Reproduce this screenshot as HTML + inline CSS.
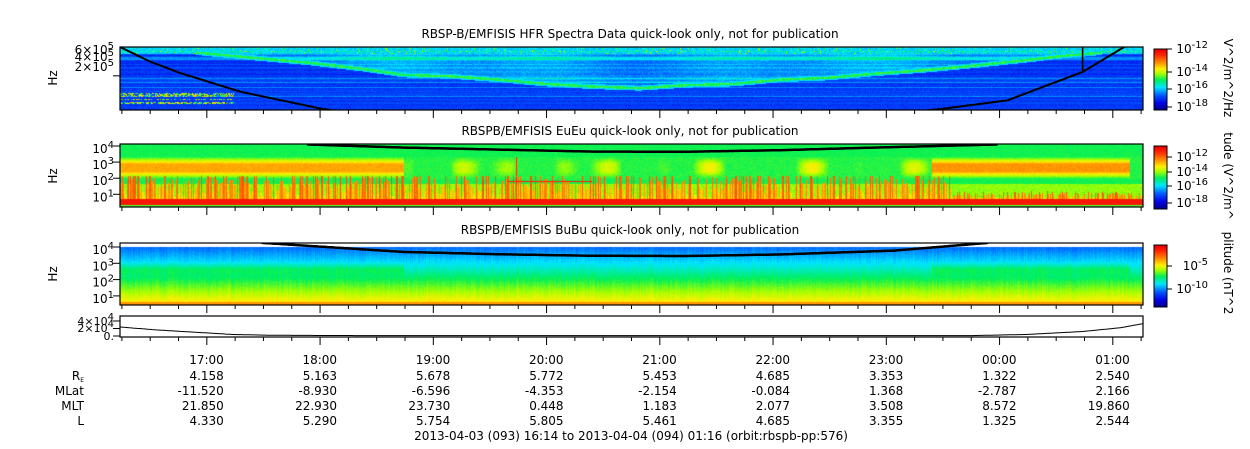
<!DOCTYPE html>
<html><head><meta charset="utf-8">
<style>
body{margin:0;background:#fff;}
#wrap{position:relative;width:1250px;height:449px;overflow:hidden;background:#fff;font-family:"DejaVu Sans","Liberation Sans",sans-serif;font-size:12px;color:#000;}
canvas,svg{position:absolute;left:0;top:0;}
</style></head>
<body>
<div id="wrap">
<canvas id="cv" width="1250" height="449"></canvas>
<svg id="sv" width="1250" height="449"></svg>
</div>
<script>
// ---- data ----
const hourLabels = ["17:00","18:00","19:00","20:00","21:00","22:00","23:00","00:00","01:00"];
const hourMinutes = [46,106,166,226,286,346,406,466,526];
const rowNames = ["RE","MLat","MLT","L"];
const reVals = ["4.158","5.163","5.678","5.772","5.453","4.685","3.353","1.322","2.540"];
const mlatVals = ["-11.520","-8.930","-6.596","-4.353","-2.154","-0.084","1.368","-2.787","2.166"];
const mltVals = ["21.850","22.930","23.730","0.448","1.183","2.077","3.508","8.572","19.860"];
const lVals = ["4.330","5.290","5.754","5.805","5.461","4.685","3.355","1.325","2.544"];
// HFR black curve (Hz) vs minutes from start
const hfrCurveMin = [0,16,32,64,106,130,400,434,470,510,532,545];
const hfrCurveHz = [7e5,2.6e5,1.2e5,3.4e4,1.1e4,7e3,7e3,1.05e4,1.9e4,1.3e5,7e5,1.5e6];
// upper hybrid line (Hz)
const uhrMin = [40,70,100,130,150,175,200,225,250,275,300,325,350,375,400,425,450,475,500,520];
const uhrHz = [5e5,3.5e5,2.5e5,1.6e5,1.1e5,1e5,8e4,6e4,5e4,4.5e4,5.5e4,6e4,8e4,9e4,1.2e5,1.5e5,2e5,2.8e5,4e5,5e5];
// EuEu black curve (Hz)
const euCurveMin = [99,150,200,250,300,350,400,465];
const euCurveHz = [1.25e4,8e3,6e3,4.5e3,4.4e3,5.5e3,8e3,1.25e4];
// BuBu black curve (Hz)
const buCurveMin = [75,150,200,250,300,350,410,460];
const buCurveHz = [1.8e4,5e3,3.6e3,2.9e3,2.8e3,3.5e3,6e3,1.8e4];
// bottom panel line
const linMin = [0,20,40,60,80,100,140,300,450,480,510,530,542];
const linVal = [2.4e4,1.6e4,1e4,4e3,2e3,1.5e3,1e3,1e3,1e3,4e3,1.2e4,2.2e4,3.3e4];

// ---- axes ----
const X0=120,X1=1143,TOT=542;
const xs=m=>X0+m/TOT*(X1-X0);
const y1=f=>47+(Math.log10(7e5)-Math.log10(f))*34.1;
const y2=f=>146+(4-Math.log10(f))*16.1;
const y3=f=>247+(4-Math.log10(f))*16.3;
const y4=v=>336-v/4e4*15;
function interp(ax,ay,m){if(m<=ax[0])return ay[0];for(let i=1;i<ax.length;i++){if(m<=ax[i]){const t=(m-ax[i-1])/(ax[i]-ax[i-1]);return ay[i-1]*(1-t)+ay[i]*t;}}return ay[ay.length-1];}
function interpLog(ax,ay,m){if(m<=ax[0])return ay[0];for(let i=1;i<ax.length;i++){if(m<=ax[i]){const t=(m-ax[i-1])/(ax[i]-ax[i-1]);return Math.pow(10,Math.log10(ay[i-1])*(1-t)+Math.log10(ay[i])*t);}}return ay[ay.length-1];}

// ---- texture ----
let seed=12345;function rnd(){seed|=0;seed=seed+0x6D2B79F5|0;let t=Math.imul(seed^seed>>>15,1|seed);t=t+Math.imul(t^t>>>7,61|t)^t;return((t^t>>>14)>>>0)/4294967296;}
const cl=v=>Math.max(0,Math.min(1,v));
const cmS=[0,0.12,0.25,0.38,0.5,0.6,0.68,0.8,0.92,1];
const cmC=[[0,0,130],[0,0,230],[0,90,255],[0,230,255],[0,240,90],[160,255,0],[255,240,0],[255,130,0],[255,30,0],[230,0,0]];
function cmap(v){v=cl(v);for(let i=1;i<cmS.length;i++){if(v<=cmS[i]){const t=(v-cmS[i-1])/(cmS[i]-cmS[i-1]);return cmC[i].map((c,k)=>cmC[i-1][k]*(1-t)+c*t);}}return cmC[cmC.length-1];}
const cv=document.getElementById('cv'),ctx=cv.getContext('2d');
const img=ctx.createImageData(1250,449);
function put(x,y,v){const c=cmap(v),i=(y*1250+x)*4;img.data[i]=c[0];img.data[i+1]=c[1];img.data[i+2]=c[2];img.data[i+3]=255;}
const colN=[],colS=[],rowN=[];
for(let x=0;x<1250;x++){colN.push(rnd());colS.push(rnd());}
for(let y=0;y<449;y++)rowN.push(rnd());
const env=[];for(let x=0;x<1250;x++){env.push(0.5+0.5*Math.sin(x/37)*Math.sin(x/91+1));}
const env2=[];for(let x=0;x<1250;x++){env2.push(Math.max(0,Math.sin(x/11)*Math.sin(x/29+2)));}
// panel 1
for(let x=X0;x<X1;x++){const m=(x-X0)/(X1-X0)*TOT;const uy=(m>=40&&m<=520)?y1(interpLog(uhrMin,uhrHz,m)):-99;
 for(let y=47;y<110;y++){const t=(y-47)/63;let v=0.15+rowN[y]*0.07+rnd()*0.05;
  if(y<uy-2&&m>40&&m<520){v+=0.06+env[x]*0.1*(1-t)+rnd()*0.04;}
  if(t<0.1)v=0.32+rnd()*0.1+(rnd()<0.05?0.2:0);
  if(rowN[y]>0.85)v+=0.06;
  const d=Math.abs(y-uy);if(d<1.2)v=0.48+rnd()*0.08;else if(d<2.5)v=0.37;
  if(m<60&&t>0.72&&t<0.92&&rowN[y]>0.6&&rnd()<0.6)v=0.45+rnd()*0.3;
  put(x,y,v);}}
// panel 2
for(let x=X0;x<X1;x++){const m=(x-X0)/(X1-X0)*TOT;const sp=colS[x];
 let band=(m<150)?0.74:(m>430&&m<535)?0.76:(0.5+0.16*env2[x]);
 for(let y=144;y<207;y++){const t=(y-144)/63;let v=0.5+rnd()*0.02;
  if(t>0.2&&t<0.54){const c=1-Math.abs(t-0.37)/0.17;v=Math.max(v,0.5+(band-0.5)*Math.min(1,c*1.5)+rnd()*0.04);}
  if(t>0.5&&t<0.88){const h=0.88-sp*0.45*(m<440?1:0.3);if(t>h)v=0.62+sp*0.22+rnd()*0.04;else if(t>0.62)v=Math.max(v,0.56+rnd()*0.06);}
  if(t>=0.87&&t<0.96)v=0.94;
  if(t>=0.96)v=0.55;
  if(m>205&&m<250&&Math.abs(y-181)<1)v=0.92;
  if(Math.abs(x-516)<1&&y>156&&y<185)v=0.9;
  put(x,y,v);}}
// panel 3
for(let x=X0;x<X1;x++){const m=(x-X0)/(X1-X0)*TOT;const g=(m<150||(m>430&&m<535))?1:0;
 for(let y=247;y<305;y++){const t=(y-243)/62;let v;
  if(t<0.35)v=0.25+(t-0.06)*0.45;else if(t<0.6)v=0.38+(t-0.35)*0.48;else v=0.5+(t-0.6)*0.5;
  if(g&&t>0.3&&t<0.55)v+=0.07*(1-Math.abs(t-0.42)/0.13);
  v+=rnd()*0.03+(colN[x]-0.5)*0.03;
  if(t>0.95)v=0.78;
  put(x,y,v);}}
// colorbars
for(const cb of [[49,110],[146,209],[245,307]])for(let y=cb[0];y<cb[1];y++)for(let x=1154;x<1167;x++)put(x,y,1-(y-cb[0])/(cb[1]-cb[0]));
ctx.putImageData(img,0,0);

// ---- overlay ----
const sv=document.getElementById('sv');const NS='http://www.w3.org/2000/svg';
function el(tag,a,txt){const e=document.createElementNS(NS,tag);for(const k in a)e.setAttribute(k,a[k]);if(txt!==undefined)e.textContent=txt;sv.appendChild(e);return e;}
function path(pts){return pts.map((p,i)=>(i?'L':'M')+p[0].toFixed(1)+','+p[1].toFixed(1)).join('');}
function clipRect(id,y0,y1_){const d=el('clipPath',{id:id});const r=document.createElementNS(NS,'rect');r.setAttribute('x',X0);r.setAttribute('y',y0);r.setAttribute('width',X1-X0);r.setAttribute('height',y1_-y0);d.appendChild(r);}
clipRect('c1',47,110);clipRect('c2',144,207);clipRect('c3',243,305);clipRect('c4',316,337);
function curve(ax,ay,fy,clip,name,w){const pts=[];for(let m=ax[0];m<=ax[ax.length-1];m+=1)pts.push([xs(m),fy(interpLog(ax,ay,m))]);
 const p=el('path',{d:path(pts),fill:'none',stroke:'#000','stroke-width':w,'clip-path':'url(#'+clip+')'});
 
 }
curve(hfrCurveMin,hfrCurveHz,y1,'c1','hfr-cutoff-curve',2);
const vl=el('line',{x1:xs(510),x2:xs(510),y1:47,y2:72,stroke:'#000','stroke-width':1.5});


curve(euCurveMin,euCurveHz,y2,'c2','eueu-fce-curve',2.5);
curve(buCurveMin,buCurveHz,y3,'c3','bubu-fce-curve',2.5);
{const pts=[];for(let m=0;m<=TOT;m++)pts.push([xs(m),y4(interp(linMin,linVal,m))]);
 const p=el('path',{d:path(pts),fill:'none',stroke:'#000','stroke-width':1,'clip-path':'url(#c4)'});
 
 }
// frames & ticks
const panels=[[47,110,'hfr-panel'],[144,207,'eueu-panel'],[243,305,'bubu-panel'],[316,337,'position-panel']];
for(const p of panels){const r=el('rect',{x:X0,y:p[0],width:X1-X0,height:p[1]-p[0],fill:'none',stroke:'#000','stroke-width':1.2});
 
 
 for(let m=1;m<=TOT;m++){const x=xs(m);const hr=hourMinutes.includes(m);if(m%15===1&&!hr){el('line',{x1:x,x2:x,y1:p[1],y2:p[1]+4,stroke:'#000'});}if(hr)el('line',{x1:x,x2:x,y1:p[1],y2:p[1]+8,stroke:'#000'});}}
// titles
const titles=[[34,'RBSP-B/EMFISIS  HFR Spectra Data quick-look only, not for publication'],[131,'RBSPB/EMFISIS  EuEu quick-look only, not for publication'],[230,'RBSPB/EMFISIS  BuBu quick-look only, not for publication']];
titles.forEach((t,i)=>{const e=el('text',{x:630,y:t[0]+4,'text-anchor':'middle','font-size':12,'xml:space':'preserve'},t[1]);
 
 });
// y labels
function ylab(y,n){const e=el('text',{x:0,y:0,'text-anchor':'middle','font-size':12,transform:'translate(57,'+y+') rotate(-90)'},'Hz');
 
 }
ylab(78,'hfr-y-axis-title');ylab(176,'eueu-y-axis-title');ylab(274,'bubu-y-axis-title');
function sup(x,y,base,ex,n,fs){const e=el('text',{x:x,y:y,'text-anchor':'end','font-size':fs||12});
 const a=document.createElementNS(NS,'tspan');a.textContent=base;e.appendChild(a);const b=document.createElementNS(NS,'tspan');b.setAttribute('dy','-5');b.setAttribute('font-size','10');b.textContent=ex;e.appendChild(b);}
sup(114,54,'6×10','5','hfr-tick-6e5');sup(114,61,'4×10','5','hfr-tick-4e5');sup(114,71,'2×10','5','hfr-tick-2e5');
el('line',{x1:113,x2:120,y1:y1(1e5),y2:y1(1e5),stroke:'#000'});
[[4,2],[3,2],[2,2],[1,2]].forEach((d)=>{const f=Math.pow(10,d[0]);sup(114,y2(f)+7,'10',String(d[0]),'eueu-tick-1e'+d[0]);sup(114,y3(f)+7,'10',String(d[0]),'bubu-tick-1e'+d[0]);
 el('line',{x1:113,x2:120,y1:y2(f),y2:y2(f),stroke:'#000'});el('line',{x1:113,x2:120,y1:y3(f),y2:y3(f),stroke:'#000'});});
sup(114,325,'4×10','4','pos-tick-4e4',11);sup(114,332,'2×10','4','pos-tick-2e4',11);
{const e=el('text',{x:114,y:340,'text-anchor':'end','font-size':11},'0.');}
[4e4,2e4,0].forEach(v=>el('line',{x1:113,x2:120,y1:y4(v),y2:y4(v),stroke:'#000'}));
// colorbars
[[49,110],[146,209],[245,307]].forEach((c,i)=>{const r=el('rect',{x:1154,y:c[0],width:13,height:c[1]-c[0],fill:'none',stroke:'#000'});});
[[53,'-12'],[76,'-14'],[93,'-16'],[111,'-18']].forEach(t=>{sup(1208,t[0],'10',t[1],'cb1-tick'+t[1]);el('line',{x1:1167,x2:1172,y1:t[0]-4,y2:t[0]-4,stroke:'#000'});});
[[161,'-12'],[176,'-14'],[190,'-16'],[207,'-18']].forEach(t=>{sup(1208,t[0],'10',t[1],'cb2-tick'+t[1]);el('line',{x1:1167,x2:1172,y1:t[0]-4,y2:t[0]-4,stroke:'#000'});});
[[270,'-5'],[293,'-10']].forEach(t=>{sup(1208,t[0],'10',t[1],'cb3-tick'+t[1]);el('line',{x1:1167,x2:1172,y1:t[0]-4,y2:t[0]-4,stroke:'#000'});});
[[78,'V^2/m^2/Hz'],[176,'tude (V^2/m^'],[273,'plitude (nT^2']].forEach((t,i)=>{const e=el('text',{x:0,y:0,'text-anchor':'middle','font-size':12,transform:'translate(1224,'+t[0]+') rotate(90)'},t[1]);
 
 });
// table
const rowsY=[376,391,406,421],rowData=[reVals,mlatVals,mltVals,lVals];
hourLabels.forEach((h,i)=>{const e=el('text',{x:xs(hourMinutes[i])+17,y:364,'text-anchor':'end','font-size':12},h);
 
 });
rowNames.forEach((r,j)=>{const e=el('text',{x:84,y:rowsY[j]+4,'text-anchor':'end','font-size':12},r==='RE'?'R':r);
 if(r==='RE'){const s=document.createElementNS(NS,'tspan');s.setAttribute('font-size','6');s.setAttribute('dy','2');s.textContent='E';e.appendChild(s);}
 
 
 rowData[j].forEach((v,i)=>{const t=el('text',{x:xs(hourMinutes[i])+17,y:rowsY[j]+4,'text-anchor':'end','font-size':12},v);
  
  });});
{const e=el('text',{x:631,y:440,'text-anchor':'middle','font-size':12},'2013-04-03 (093) 16:14 to 2013-04-04 (094) 01:16 (orbit:rbspb-pp:576)');
 
 }
</script>
</body></html>
